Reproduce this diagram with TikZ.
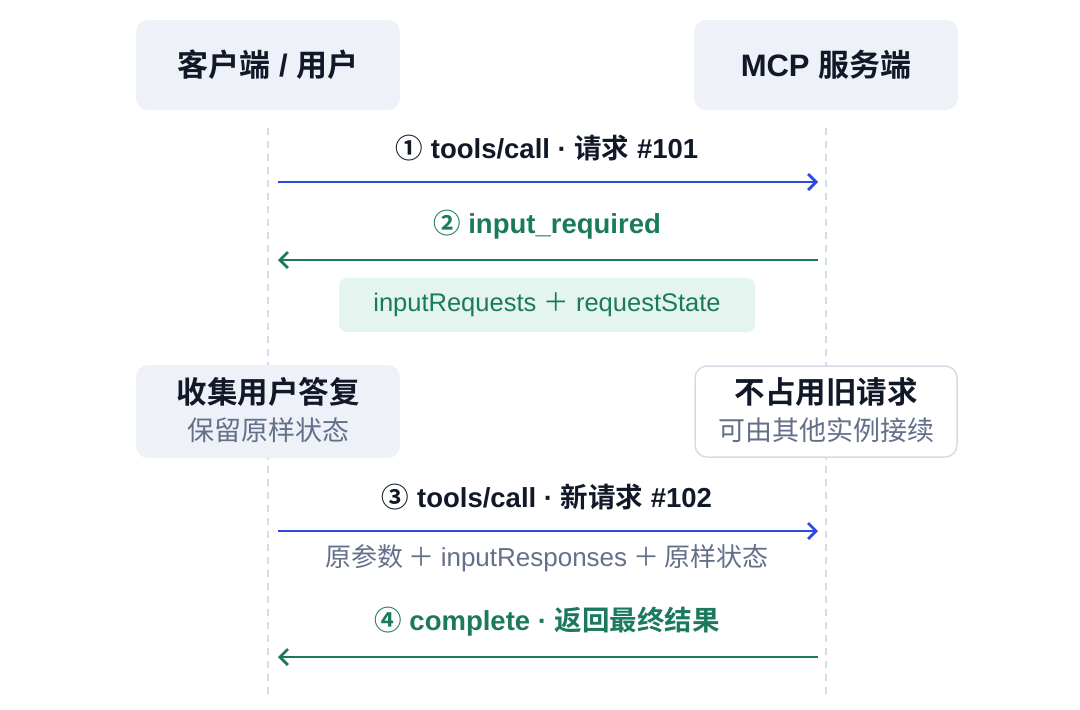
\documentclass[tikz,border=0pt]{standalone}
\usepackage{fontspec}
\setmainfont{Noto Sans CJK SC}[BoldFont={Noto Sans CJK SC Bold}]
\newfontfamily\lat{Liberation Sans}
\usetikzlibrary{arrows.meta}
\definecolor{hdrfill}{HTML}{EEF1F8}
\definecolor{darktxt}{HTML}{111827}
\definecolor{graytxt}{HTML}{64708A}
\definecolor{bluearr}{HTML}{2D4AE0}
\definecolor{greenarr}{HTML}{1B7A5E}
\definecolor{greenfill}{HTML}{E3F5EE}
\definecolor{lifeline}{HTML}{D6DDE8}
\definecolor{boxborder}{HTML}{D5DCE6}
\tikzset{
  hdrbox/.style={fill=hdrfill, rounded corners=12pt, minimum width=264pt, minimum height=90pt, inner sep=0pt},
  whitebox/.style={fill=white, draw=boxborder, line width=1.5pt, rounded corners=12pt, minimum width=262pt, minimum height=91pt, inner sep=0pt},
  hdrtxt/.style={font=\fontsize{31}{36}\selectfont\bfseries, text=darktxt},
  titletxt/.style={font=\fontsize{30.5}{34}\selectfont\bfseries, text=darktxt},
  subtxt/.style={font=\fontsize{27}{30}\selectfont, text=graytxt},
  msgtxt/.style={font=\fontsize{27.5}{32}\selectfont\bfseries, text=darktxt},
  msggreen/.style={font=\fontsize{27.5}{32}\selectfont\bfseries, text=greenarr},
  lifeln/.style={draw=lifeline, line width=2pt, dash pattern=on 7pt off 6pt},
  blueline/.style={draw=bluearr, line width=2.8pt, -{Straight Barb[length=8pt,width=16pt,line width=2.8pt]}},
  greenline/.style={draw=greenarr, line width=2.8pt, -{Straight Barb[length=8pt,width=16pt,line width=2.8pt]}},
}
\begin{document}
\begin{tikzpicture}[x=1pt,y=-1pt]
\useasboundingbox (0,0) rectangle (1080,710);
% lifelines
\coordinate (cl1) at (268,128);
\coordinate (cl2) at (268,700);
\coordinate (sl1) at (826,128);
\coordinate (sl2) at (826,700);
\draw[lifeln] (cl1) -- (cl2);
\draw[lifeln] (sl1) -- (sl2);
% headers
\node[hdrbox] (client) at (268,65) {};
\node[hdrtxt] (clientt) at (268,65) {客户端{\lat\ / }用户};
\node[hdrbox] (server) at (826,65) {};
\node[hdrtxt] (servert) at (826,65) {{\lat MCP }服务端};
% message 1
\node[msgtxt] (m1) at (547,148) {①{\lat\ tools/call · }请求{\lat\ \#101}};
\coordinate (a1s) at (278,182);
\coordinate (a1e) at (818,182);
\draw[blueline] (a1s) -- (a1e);
% message 2
\node[msggreen] (m2) at (547,225) {②{\lat\ input\_required}};
\coordinate (a2s) at (818,260);
\coordinate (a2e) at (278,260);
\draw[greenline] (a2s) -- (a2e);
\node[fill=greenfill, rounded corners=8pt, minimum width=416pt, minimum height=54pt, inner sep=0pt,
  font=\fontsize{25.5}{29}\selectfont\lat, text=greenarr] (g) at (547,305) {inputRequests {\normalfont ＋} requestState};
% middle boxes
\node[hdrbox, minimum height=93pt] (collect) at (268,411.5) {};
\node[titletxt] (collectt) at (268,392) {收集用户答复};
\node[subtxt] (collects) at (268,430) {保留原样状态};
\node[whitebox] (free) at (826,411.5) {};
\node[titletxt] (freet) at (826,392) {不占用旧请求};
\node[subtxt] (frees) at (826,430) {可由其他实例接续};
% message 3
\node[msgtxt] (m3) at (547,497) {③{\lat\ tools/call · }新请求{\lat\ \#102}};
\coordinate (a3s) at (278,531);
\coordinate (a3e) at (818,531);
\draw[blueline] (a3s) -- (a3e);
\node[font=\fontsize{26}{30}\selectfont, text=graytxt] (m3s) at (547,558) {原参数 ＋ {\lat inputResponses} ＋ 原样状态};
% message 4
\node[msggreen] (m4) at (547,622) {④{\lat\ complete · }返回最终结果};
\coordinate (a4s) at (818,657);
\coordinate (a4e) at (278,657);
\draw[greenline] (a4s) -- (a4e);
\end{tikzpicture}
\end{document}
